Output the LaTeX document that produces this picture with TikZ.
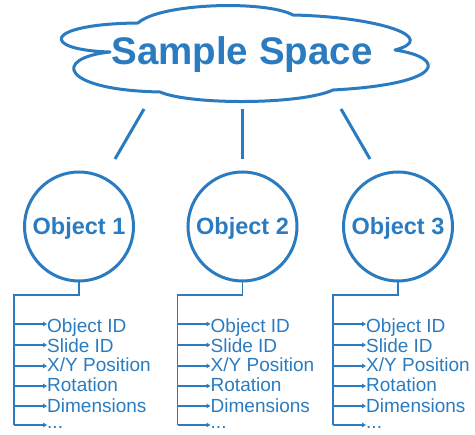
\documentclass[tikz,border=0pt]{standalone}
\usepackage{fontspec}
\setmainfont{Liberation Sans}
\usetikzlibrary{arrows.meta,calc}
\definecolor{ink}{RGB}{42,123,192}
\newcommand\moreitems{...}
\begin{document}
\begin{tikzpicture}[x=1pt,y=-1pt,
  heavyline/.style={draw=ink,line width=3pt},
  objcircle/.style={circle,draw=ink,line width=3pt,minimum size=109pt,inner sep=0pt,
    text height=17pt,text depth=0pt,
    text=ink,font=\fontsize{23.5}{28}\selectfont\bfseries},
  treeline/.style={draw=ink,line width=1.4pt},
  listitem/.style={anchor=west,inner sep=0pt,text=ink,text depth=0pt,
    font=\fontsize{19}{22}\selectfont},
  itemarrow/.style={-{Triangle[length=4pt,width=4.5pt]}}
]
\useasboundingbox (0,0) rectangle (475,435);

% cloud outline
\draw[heavyline,line join=round]
  (138,23) .. controls (160,3) and (265,0) .. (293,15)
  .. controls (380,17) and (440,38) .. (395,50)
  .. controls (448,58) and (445,84) .. (333,90)
  .. controls (300,105) and (190,105) .. (160,92)
  .. controls (60,90) and (52,58) .. (110,52)
  .. controls (40,50) and (42,24) .. (138,23) -- cycle;
\node[anchor=base,text=ink,font=\fontsize{38.5}{44}\selectfont\bfseries] (space) at (242,65) {Sample Space};

% links from the cloud towards the objects
\coordinate (s1) at (144,109); \coordinate (e1) at (115,159);
\coordinate (s2) at (242.5,109); \coordinate (e2) at (242.5,159);
\coordinate (s3) at (341,109); \coordinate (e3) at (370,159);
\foreach \i in {1,2,3} \draw[heavyline] (s\i) -- (e\i);

% objects with their attribute lists (item text, arrow height, text height)
\foreach \i/\cx in {1/79,2/242.5,3/398} {
  \node[objcircle] (obj\i) at (\cx,226.5) {Object \i};
  \coordinate (top\i) at (\cx-65,295);
  \coordinate (bot\i) at (\cx-65,425);
  \draw[treeline] (obj\i.south) |- (top\i) -- (bot\i);
  \foreach \t/\y/\h [count=\k from 0] in {Object ID/324/17,Slide ID/345/15,
      {X/Y Position}/366/12,Rotation/386/12,Dimensions/406/14,\moreitems/425/8} {
    \node[listitem,text height=\h pt] (it\i\k) at (\cx-32,\y) {\t};
    \draw[treeline,itemarrow] (top\i |- it\i\k.west) -- (it\i\k.west);
  }
}
\end{tikzpicture}
\end{document}
